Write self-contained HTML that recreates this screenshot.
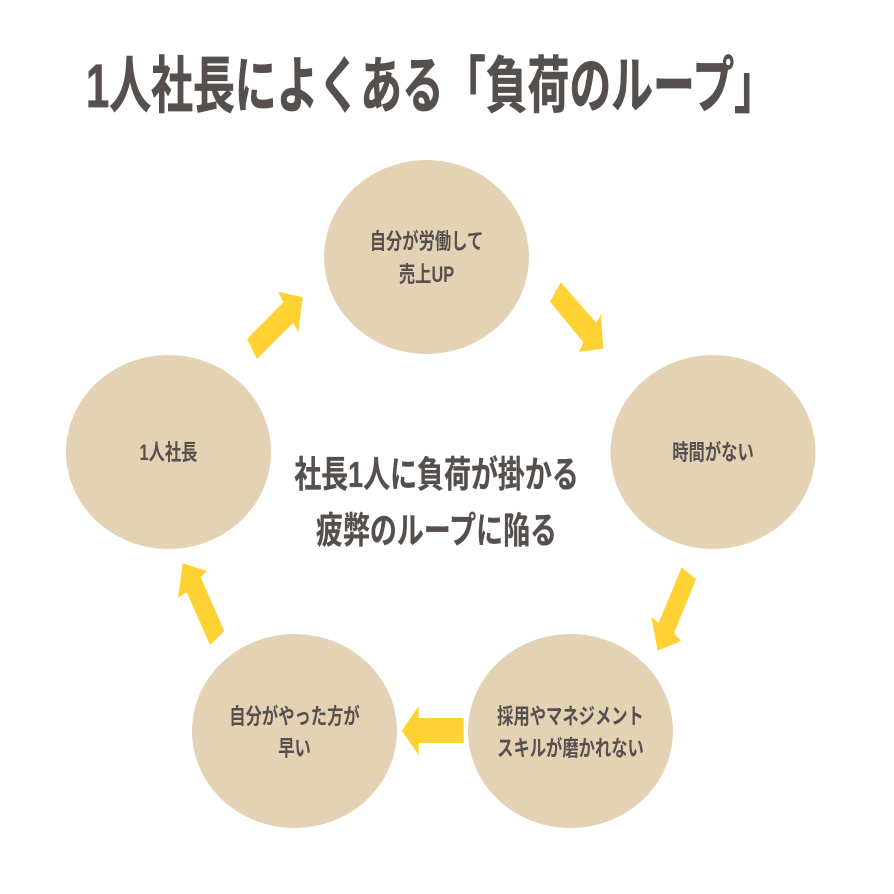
<!DOCTYPE html>
<html lang="ja">
<head>
<meta charset="utf-8">
<style>
html,body{margin:0;padding:0;background:#fff}
svg{display:block}
text{font-family:"Liberation Sans","Noto Sans CJK JP",sans-serif;font-weight:700;fill:#55504d;text-anchor:middle}
</style>
</head>
<body>
<svg width="894" height="894" viewBox="0 0 894 894" xmlns="http://www.w3.org/2000/svg">
<rect width="894" height="894" fill="#fff"/>
<g fill="#e4d2b5">
<ellipse cx="426.5" cy="257" rx="102.5" ry="97"/>
<ellipse cx="713" cy="452" rx="102.5" ry="97"/>
<ellipse cx="168.5" cy="452" rx="102.5" ry="97"/>
<ellipse cx="570.5" cy="731" rx="102.5" ry="97"/>
<ellipse cx="294.5" cy="731" rx="102.5" ry="97"/>
</g>
<g fill="#ffd234">
<polygon points="247,339 257,359 293.3,322.7 298.3,332.3 302.7,297.3 278.3,291.7 283.3,302.3"/>
<polygon points="560.7,282.3 550,301.7 583.3,342.3 579,352 603.3,348.7 601,314 596.3,322.7"/>
<polygon points="681.7,567.3 696,579.3 674,633.3 681,641 657.7,650.7 651.3,616.7 658.7,622.7"/>
<polygon points="463.7,718 463.7,743 418.7,743 418.7,755 401.7,730.7 418.7,706 418.7,718"/>
<polygon points="224.3,631 210,645 186.7,592.3 178,597.7 182.7,563.3 207,571 200.7,577.3"/>
</g>
<text transform="translate(431,107) scale(.747,1.1)" font-size="56" stroke="#55504d" stroke-width=".7">1人社長によくある「負荷のループ」</text>
<text transform="translate(426.5,249) scale(.815,1.1)" font-size="20">自分が労働して</text>
<text transform="translate(426.5,282) scale(.815,1.1)" font-size="20">売上UP</text>
<text transform="translate(713,460) scale(.815,1.1)" font-size="20">時間がない</text>
<text transform="translate(168.5,460) scale(.815,1.1)" font-size="20">1人社長</text>
<text transform="translate(294.5,724) scale(.815,1.1)" font-size="20">自分がやった方が</text>
<text transform="translate(294.5,756) scale(.815,1.1)" font-size="20">早い</text>
<text transform="translate(570.5,724) scale(.815,1.1)" font-size="20">採用やマネジメント</text>
<text transform="translate(570.5,756) scale(.815,1.1)" font-size="20">スキルが磨かれない</text>
<text transform="translate(436.5,487) scale(.817,1.1)" font-size="33" stroke="#55504d" stroke-width=".3">社長1人に負荷が掛かる</text>
<text transform="translate(436.5,543) scale(.817,1.1)" font-size="33" stroke="#55504d" stroke-width=".3">疲弊のループに陥る</text>
</svg>
</body>
</html>
